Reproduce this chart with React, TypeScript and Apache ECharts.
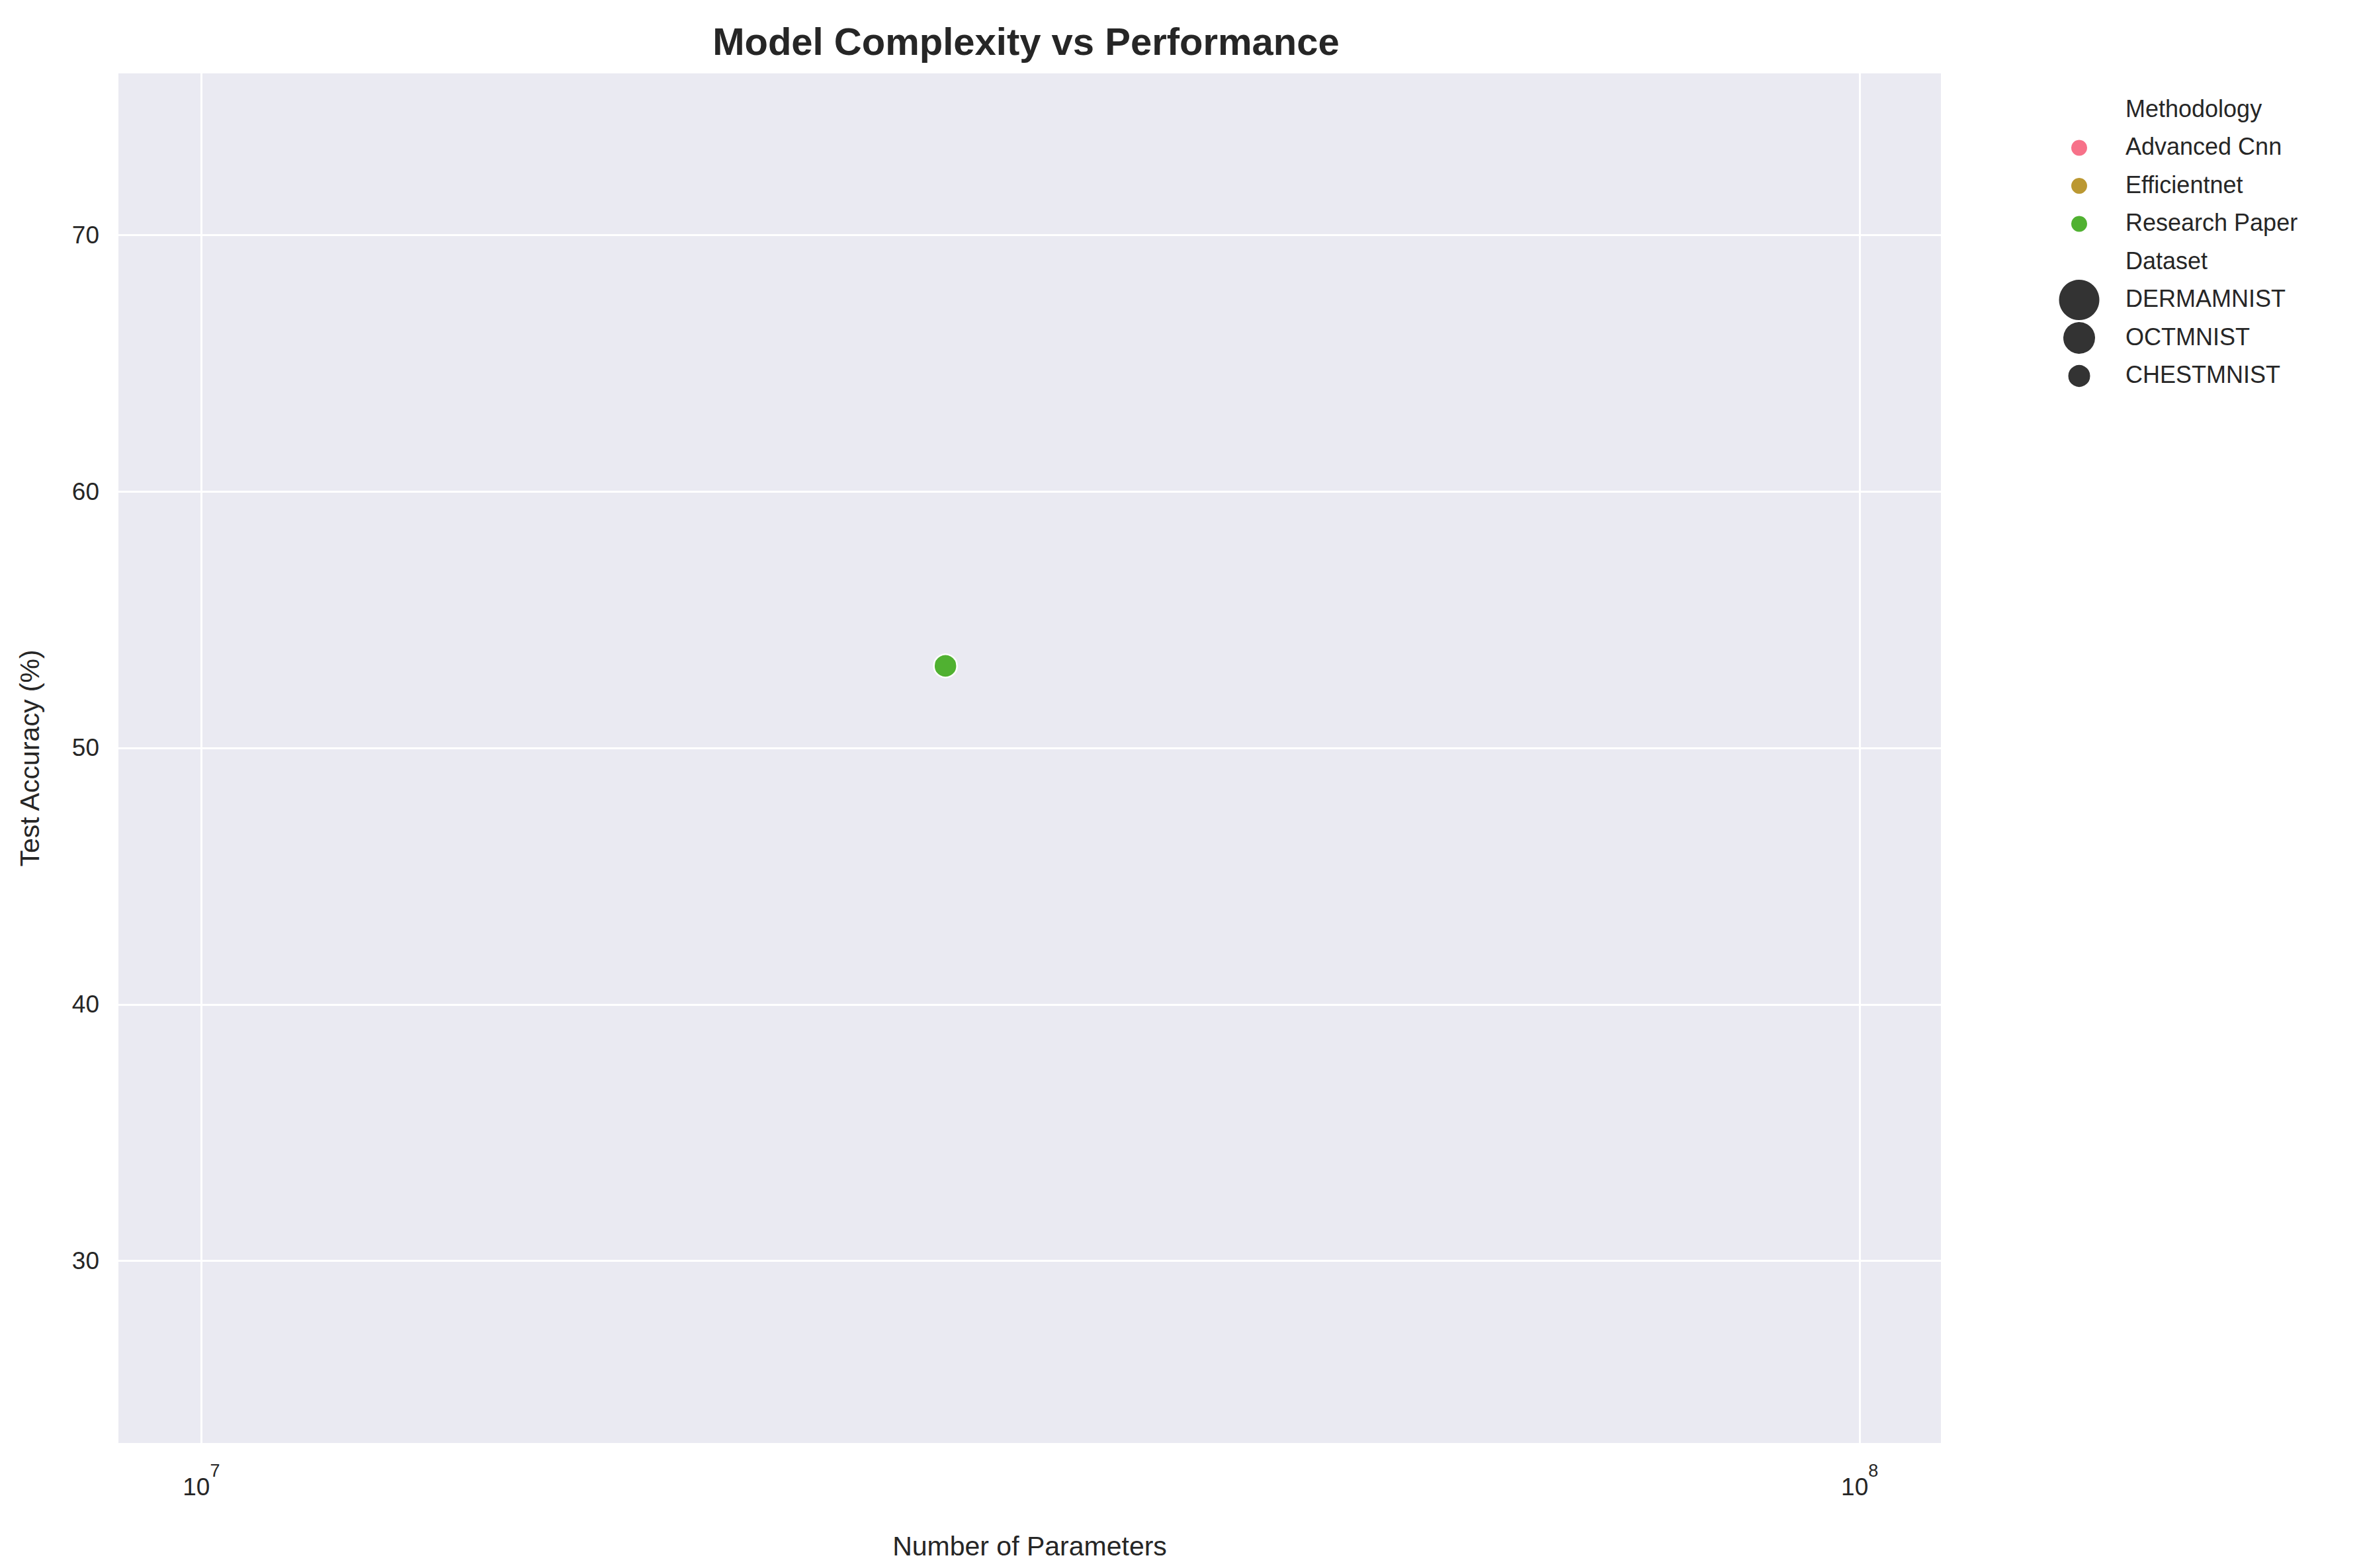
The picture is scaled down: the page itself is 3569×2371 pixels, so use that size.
import React, { useEffect, useRef } from 'react';
import * as echarts from 'echarts';

const methodologies = ['Advanced Cnn', 'Efficientnet', 'Research Paper'];
const methodColors = ['#f77189', '#bb9832', '#50b131'];
const datasets = ['DERMAMNIST', 'OCTMNIST', 'CHESTMNIST'];
const datasetSizes = [63, 50, 35];

// one visible result: [params, accuracy, methodology, dataset]
const points: [number, number, string, string][] = [[2.81e7, 53.2, 'Research Paper', 'CHESTMNIST']];

const yTicks = [30, 40, 50, 60, 70];
const xTicks = [1e7, 1e8];

const App: React.FC = () => {
  const chartRef = useRef<HTMLDivElement>(null);

  useEffect(() => {
    if (!chartRef.current) return;
    const chart = echarts.init(chartRef.current, undefined, { renderer: 'svg' });

    const font = 'Arial, "Liberation Sans", sans-serif';
    const legendX = 3135;
    const textX = 3205;
    const rowH = 57.5;
    const legendItems: any[] = [];
    let y = 158;
    const label = (t: string, yy: number) => ({
      type: 'text', left: textX, top: yy - 20, style: { text: t, font: `36px ${font}`, fill: '#262626' },
    });
    legendItems.push(label('Methodology', y));
    methodologies.forEach((m, i) => {
      y += rowH;
      legendItems.push({ type: 'circle', shape: { cx: legendX, cy: y, r: 12 }, style: { fill: methodColors[i] } });
      legendItems.push(label(m, y));
    });
    y += rowH;
    legendItems.push(label('Dataset', y));
    datasets.forEach((d, i) => {
      y += rowH;
      legendItems.push({ type: 'circle', shape: { cx: legendX, cy: y, r: datasetSizes[i] / 2 }, style: { fill: '#333333', stroke: '#ffffff', lineWidth: 2 } });
      legendItems.push(label(d, y));
    });

    chart.setOption({
      animation: false,
      backgroundColor: '#ffffff',
      title: {
        text: 'Model Complexity vs Performance',
        left: 1538,
        textAlign: 'center',
        top: 20,
        textStyle: { fontSize: 58, fontWeight: 'bold', color: '#262626', fontFamily: font },
      },
      grid: { left: 171, right: 627, top: 103, bottom: 178, backgroundColor: '#eaeaf2', show: true, borderWidth: 0 },
      xAxis: {
        type: 'log',
        logBase: 10,
        min: Math.pow(10, 6.95),
        max: Math.pow(10, 8.049),
        name: 'Number of Parameters',
        nameLocation: 'middle',
        nameGap: 135,
        nameTextStyle: { fontSize: 41, color: '#262626', fontFamily: font },
        axisLine: { show: false },
        axisTick: { show: false, customValues: xTicks },
        axisLabel: {
          customValues: xTicks,
          margin: 28,
          formatter: (v: number) => `{b|10}{s|${Math.round(Math.log10(v))}}`,
          rich: {
            b: { fontSize: 37, color: '#262626', fontFamily: font, verticalAlign: 'bottom', padding: [20, 0, 0, 0] },
            s: { fontSize: 27, color: '#262626', fontFamily: font, verticalAlign: 'top' },
          },
        },
        splitLine: { show: true, lineStyle: { color: '#ffffff', width: 3 } },
      },
      yAxis: {
        type: 'value',
        min: 22.9,
        max: 76.3,
        name: 'Test Accuracy (%)',
        nameLocation: 'middle',
        nameGap: 114,
        nameTextStyle: { fontSize: 41, color: '#262626', fontFamily: font },
        axisLine: { show: false },
        axisTick: { show: false, customValues: yTicks },
        axisLabel: { customValues: yTicks, fontSize: 37, color: '#262626', fontFamily: font, margin: 29 },
        splitLine: { show: true, lineStyle: { color: '#ffffff', width: 3 } },
      },
      series: methodologies.map((m, i) => ({
        name: m,
        type: 'scatter',
        data: points.filter((p) => p[2] === m).map((p) => ({
          value: [p[0], p[1]],
          symbolSize: datasetSizes[datasets.indexOf(p[3])],
        })),
        itemStyle: { color: methodColors[i], borderColor: '#ffffff', borderWidth: 2.5, opacity: 1 },
      })),
      graphic: legendItems,
    });

    return () => {
      chart.dispose();
    };
  }, []);

  return <div ref={chartRef} style={{ width: 3553, height: 2355 }} />;
};

export default App;
